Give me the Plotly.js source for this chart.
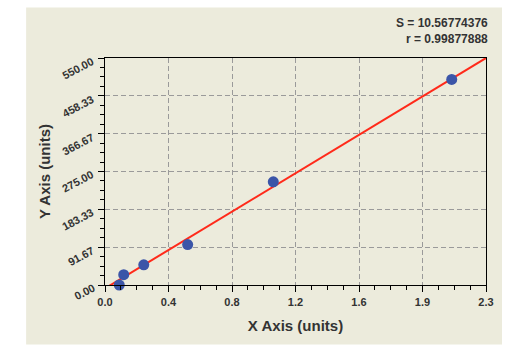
<!DOCTYPE html>
<html>
<head>
<meta charset="utf-8">
<script src="https://cdn.plot.ly/plotly-3.0.1.min.js"></script>
<style>html,body{margin:0;padding:0;background:#fff;}#chart{width:530px;height:345px;}</style>
</head>
<body>
<div id="chart"></div>
<script>
// Data
const pointX = [0.086, 0.113, 0.234, 0.499, 1.016, 2.093];
const pointY = [0, 25, 49, 98, 250, 498];
const fitX = [0, 2.3];
const fitY = [-8.3, 550];
const xTickVals = [0, 2.3/6, 4.6/6, 6.9/6, 9.2/6, 11.5/6, 2.3];
const xTickText = ["0.0", "0.4", "0.8", "1.2", "1.6", "1.9", "2.3"];
const yTickVals = [0, 550/6, 1100/6, 275, 2200/6, 2750/6, 550];
const yTickText = ["0.00", "91.67", "183.33", "275.00", "366.67", "458.33", "550.00"];
const statS = "S = 10.56774376";
const statR = "r = 0.99877888";

const fam = "Liberation Sans, Arial, sans-serif";

const traces = [
  {x: fitX, y: fitY, mode: "lines", type: "scatter",
   line: {color: "#ff2a1a", width: 2}, hoverinfo: "skip"},
  {x: pointX, y: pointY, mode: "markers", type: "scatter",
   marker: {color: "#3b55a8", size: 11}, cliponaxis: false}
];

const axisCommon = {
  showline: true, linecolor: "#000", linewidth: 1.3, mirror: true,
  ticks: "outside", ticklen: 6, tickcolor: "#000", tickwidth: 1,
  showgrid: true, gridcolor: "#9a9a9a", griddash: "5px,3px", gridwidth: 1,
  zeroline: false,
  tickfont: {family: fam, size: 11, color: "#333", weight: "bold"}
};

// rotated y tick labels, placed on the y axis scale
const yLabelAnns = yTickVals.map((v, i) => ({
  xref: "paper", yref: "y", x: 0, y: v, xanchor: "right", yanchor: "top",
  xshift: -6, yshift: 6, textangle: -28, showarrow: false,
  text: "<b>" + yTickText[i] + "</b>",
  font: {family: fam, size: 11, color: "#333"}
}));

const layout = {
  width: 530, height: 345,
  margin: {l: 105, r: 44, t: 57.5, b: 59.5},
  paper_bgcolor: "#ffffff", plot_bgcolor: "#ffffff",
  showlegend: false,
  xaxis: Object.assign({}, axisCommon, {
    range: [0, 2.3], tickmode: "array", tickvals: xTickVals, ticktext: xTickText,
    minor: {dtick: 2.3/24, tick0: 0, ticks: "outside", ticklen: 4, tickcolor: "#000", showgrid: false},
    title: {text: "<b>X Axis (units)</b>", font: {family: fam, size: 15, color: "#333"}, standoff: 14}
  }),
  yaxis: Object.assign({}, axisCommon, {
    range: [0, 550], tickmode: "array", tickvals: yTickVals, ticktext: yTickText,
    showticklabels: false,
    minor: {dtick: 550/24, tick0: 0, ticks: "outside", ticklen: 4, tickcolor: "#000", showgrid: false},
    title: {text: "<b>Y Axis (units)</b>", font: {family: fam, size: 15, color: "#333"}, standoff: 43}
  }),
  shapes: [
    {type: "rect", xref: "paper", yref: "paper", layer: "below",
     x0: -0.207, x1: 1.042, y0: -0.262, y1: 1.222,
     fillcolor: "#ecebdc", line: {width: 0}}
  ],
  annotations: yLabelAnns.concat([
    {xref: "paper", yref: "paper", x: 1.011, y: 1.156, xanchor: "right", yanchor: "middle",
     text: "<b>" + statS + "</b>", showarrow: false, align: "right",
     font: {family: fam, size: 12, color: "#333"}},
    {xref: "paper", yref: "paper", x: 1.011, y: 1.085, xanchor: "right", yanchor: "middle",
     text: "<b>" + statR + "</b>", showarrow: false, align: "right",
     font: {family: fam, size: 12, color: "#333"}}
  ])
};

Plotly.newPlot("chart", traces, layout, {staticPlot: true, displayModeBar: false});
</script>
</body>
</html>
